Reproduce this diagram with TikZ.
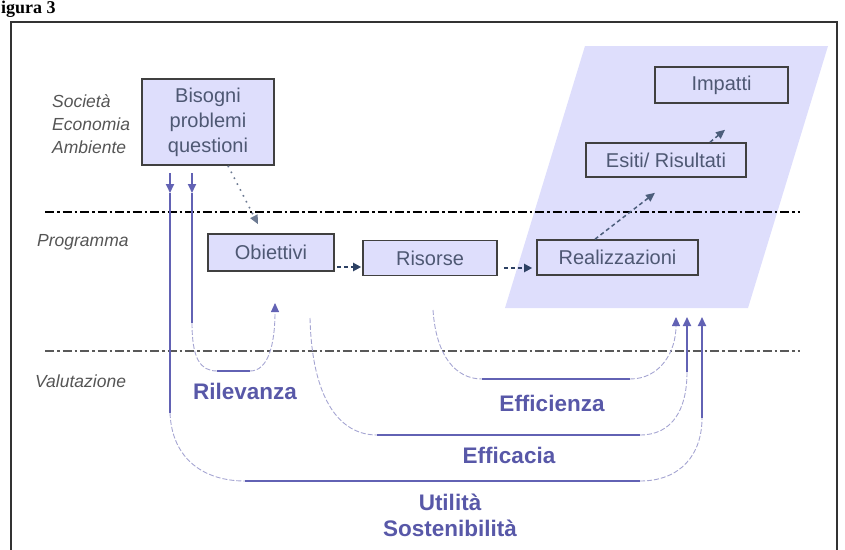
\documentclass[tikz,border=0pt]{standalone}
\usepackage{fontspec}
\setmainfont{Liberation Sans}
\newfontfamily\titlefont{Liberation Serif}
\usetikzlibrary{arrows.meta,calc}
\definecolor{lav}{RGB}{222,222,252}
\definecolor{boxtxt}{RGB}{78,88,115}
\definecolor{purp}{RGB}{98,98,180}
\definecolor{purptxt}{RGB}{88,88,168}
\definecolor{lightp}{RGB}{165,165,210}
\definecolor{slate}{RGB}{45,65,100}
\definecolor{lblgray}{RGB}{85,85,85}
\tikzset{
  box/.style={draw=black!75, line width=1.6pt, fill=lav, text=boxtxt, inner sep=0pt,
    font=\fontsize{20}{25}\selectfont, align=center},
  side/.style={anchor=west, text=lblgray, inner sep=0pt,
    font=\fontsize{17.5}{23}\selectfont\itshape, align=left},
  crit/.style={text=purptxt, inner sep=0pt, font=\fontsize{22.5}{26}\selectfont\bfseries, align=center},
  pline/.style={draw=purp, line width=1.8pt},
  ptip/.style={-{Triangle[length=9pt,width=8pt]}},
  curve/.style={draw=lightp, line width=0.9pt, dash pattern=on 5pt off 2pt},
  curvetip/.style={-{Triangle[length=9pt,width=8pt,color=purp]}},
  flow/.style={draw=slate, line width=2.6pt, dash pattern=on 4pt off 3pt, -{Triangle[length=8pt,width=8pt]}},
  thinflow/.style={draw=slate!85, line width=1.5pt, dash pattern=on 4pt off 3pt, -{Triangle[length=9pt,width=8pt]}},
  dotflow/.style={draw=slate!70, line width=1.6pt, dash pattern=on 1.6pt off 5pt, -{Triangle[length=9pt,width=8pt]}},
  sep/.style={line width=2.8pt, draw=black, dash pattern=on 9pt off 3pt on 2.5pt off 3pt},
  septhin/.style={line width=1.5pt, draw=black!65, dash pattern=on 9pt off 3pt on 2.5pt off 3pt}
}
\begin{document}
\begin{tikzpicture}[x=1pt,y=-1pt]
\useasboundingbox (0,0) rectangle (845,549);
% title
\node[anchor=base west, inner sep=0pt, font=\titlefont\fontsize{18}{22}\selectfont\bfseries] (title) at (1,13) {igura 3};
% frame
\draw[line width=2.6pt, draw=black!80] (11,22) rectangle (837,570);
% parallelogram
\fill[lav] (585,46) -- (828,46) -- (748,308) -- (505,308) -- cycle;
% separators
\draw[sep] (45,212) -- (800,212);
\draw[septhin] (45,351) -- (800,351);
% side labels
\node[side] (soc) at (52,124) {Società\\Economia\\Ambiente};
\node[side] (prog) at (37,242) {Programma};
\node[side] (val) at (35,381) {Valutazione};
% boxes
\node[box, minimum width=132pt, minimum height=86pt] (bis) at (208,122) {Bisogni\\problemi\\questioni};
\node[box, minimum width=126pt, minimum height=37pt] (obi) at (271,252.5) {Obiettivi};
\node[box, minimum width=134pt, minimum height=35pt] (ris) at (430,258) {Risorse};
\node[box, minimum width=161pt, minimum height=35pt] (rea) at (617.5,257.5) {Realizzazioni};
\node[box, minimum width=160pt, minimum height=34pt] (esi) at (666,160) {Esiti/ Risultati};
\node[box, minimum width=133pt, minimum height=36pt] (imp) at (721.5,85) {Impatti};
% flow arrows
\draw[dotflow] ([xshift=20pt]bis.south) -- ([xshift=-13pt,yshift=9pt]obi.north);
\draw[flow] ([xshift=2pt,yshift=-14.5pt]obi.east) -- ([xshift=-1pt,yshift=-9pt]ris.west);
\draw[flow] ([xshift=6pt,yshift=-10pt]ris.east) -- ([xshift=-4pt,yshift=-10.5pt]rea.west);
\draw[thinflow] ([xshift=-22.5pt]rea.north) -- ([xshift=-11pt,yshift=-15pt]esi.south);
\draw[thinflow] ([xshift=44pt]esi.north) -- ([xshift=3.5pt,yshift=-26pt]imp.south);
% coordinates for evaluation paths
\coordinate (a1) at (170,173); \coordinate (a1m) at (170,193); \coordinate (a1b) at (170,413);
\coordinate (a2) at (192,173); \coordinate (a2m) at (192,193); \coordinate (a2b) at (192,323);
% vertical lines from Bisogni
\draw[pline, ptip] (a1) -- (a1m);
\draw[pline] (a1m) -- (a1b);
\draw[pline, ptip] (a2) -- (a2m);
\draw[pline] (a2m) -- (a2b);
% Rilevanza
\coordinate (r1) at (217,371); \coordinate (r2) at (250,371); \coordinate (rt) at (275,303);
\draw[curve] (a2b) .. controls (192,358) and (200,371) .. (r1);
\draw[pline] (r1) -- (r2);
\draw[curve, curvetip] (r2) .. controls (268,371) and (275,345) .. (rt);
% Efficienza
\coordinate (e0) at (433,310); \coordinate (e1) at (482,379); \coordinate (e2) at (630,379); \coordinate (et) at (676,317);
\draw[curve] (e0) .. controls (436,355) and (455,379) .. (e1);
\draw[pline] (e1) -- (e2);
\draw[curve, curvetip] (e2) .. controls (660,379) and (676,352) .. (et);
% Efficacia
\coordinate (f0) at (310,318); \coordinate (f1) at (377,435); \coordinate (f2) at (640,435);
\coordinate (f3) at (687,372); \coordinate (ft) at (687,317);
\draw[curve] (f0) .. controls (312,400) and (340,435) .. (f1);
\draw[pline] (f1) -- (f2);
\draw[curve] (f2) .. controls (672,435) and (687,410) .. (f3);
\draw[pline, ptip] (f3) -- (ft);
% Utilita
\coordinate (u1) at (245,481); \coordinate (u2) at (640,481);
\coordinate (u3) at (702,418); \coordinate (ut) at (702,317);
\draw[curve] (a1b) .. controls (172,460) and (205,481) .. (u1);
\draw[pline] (u1) -- (u2);
\draw[curve] (u2) .. controls (680,481) and (702,455) .. (u3);
\draw[pline, ptip] (u3) -- (ut);
% criteria labels
\node[crit] (ril) at (245,391) {Rilevanza};
\node[crit] (eff) at (552,403) {Efficienza};
\node[crit] (efc) at (509,455) {Efficacia};
\node[crit] (uti) at (450,515) {Utilità\\Sostenibilità};
\end{tikzpicture}
\end{document}
